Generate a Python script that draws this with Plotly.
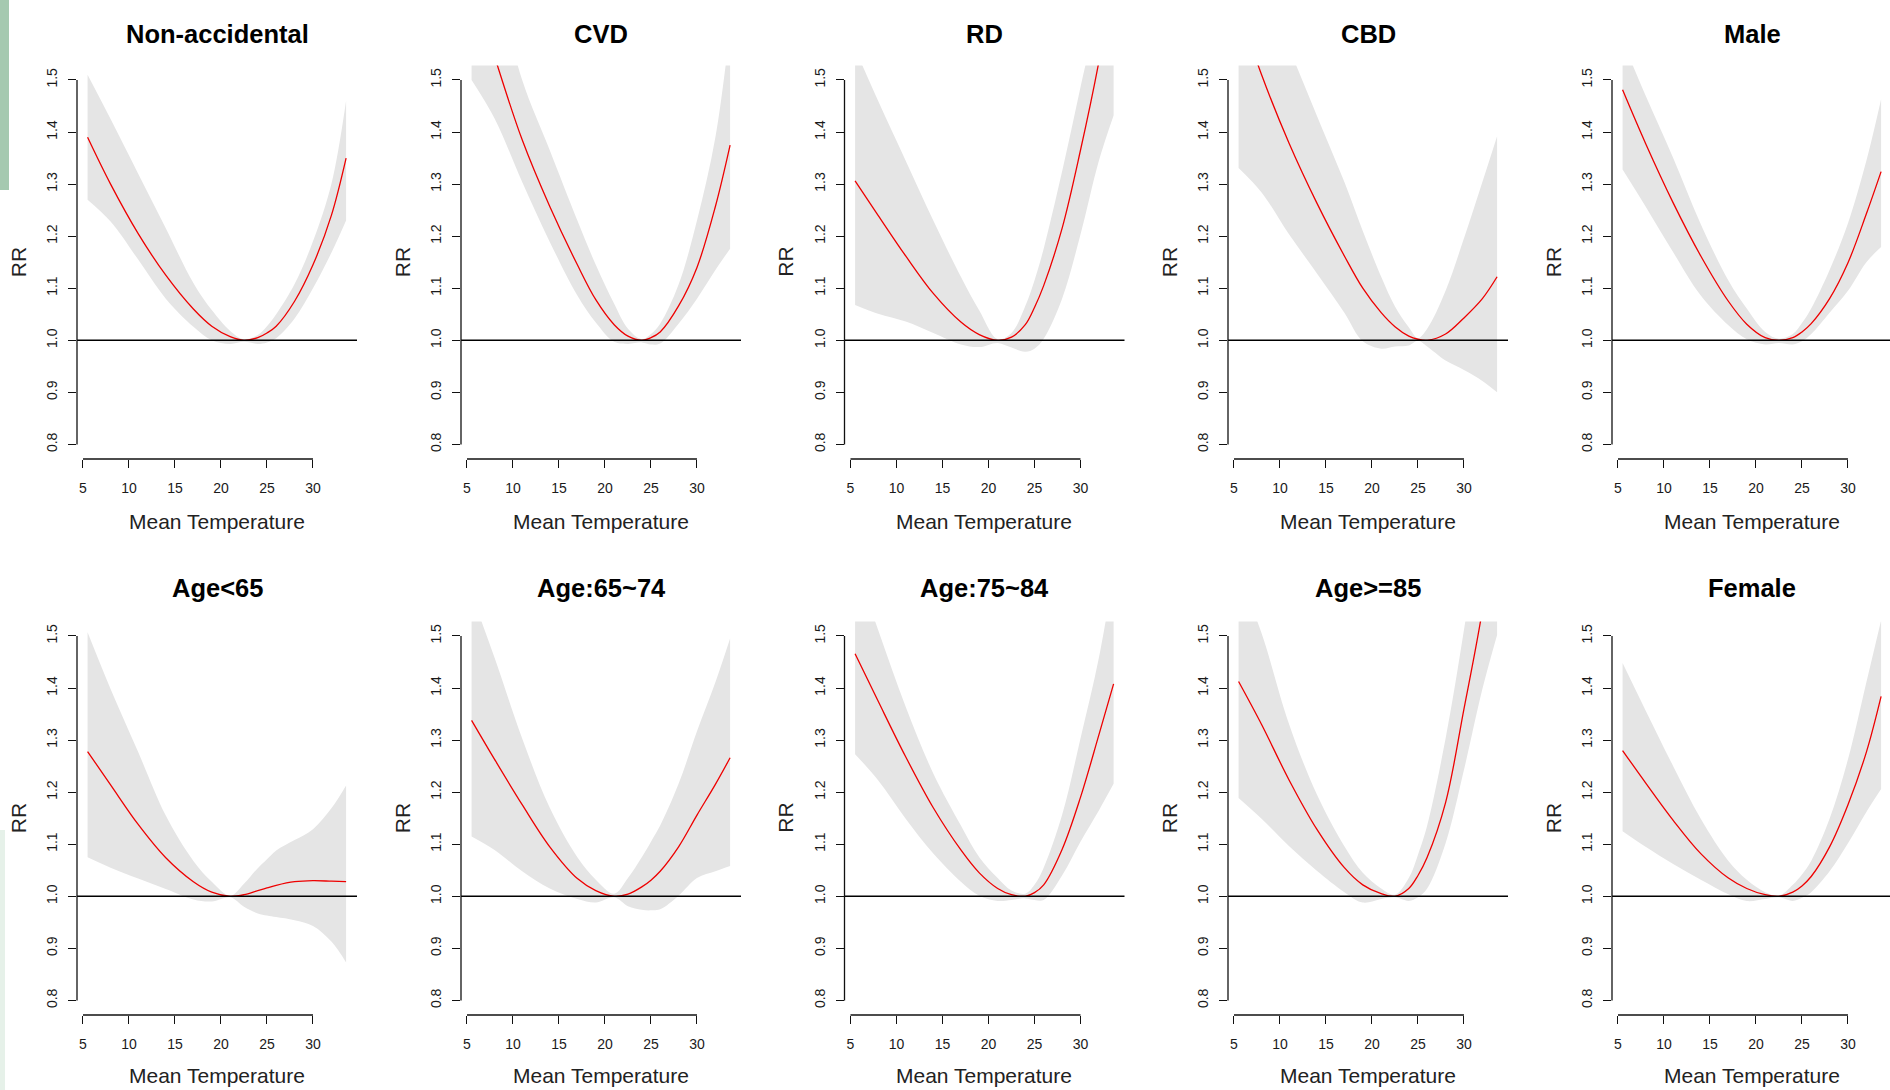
import plotly.graph_objects as go

W, H = 1890, 1090

# ---------------- data ----------------
TEMP = [5.5, 8, 11, 14, 17, 19, 21, 22.5, 24, 25, 26, 28, 30, 32, 33.6]

PANELS = ["Non-accidental", "CVD", "RD", "CBD", "Male",
          "Age<65", "Age:65~74", "Age:75~84", "Age>=85", "Female"]

rr_nonacc = [1.39, 1.30, 1.205, 1.125, 1.06, 1.027, 1.007, 1.0, 1.005, 1.014, 1.027, 1.075, 1.145, 1.24, 1.35]
hi_nonacc = [1.51, 1.425, 1.32, 1.215, 1.11, 1.058, 1.018, 1.002, 1.01, 1.027, 1.05, 1.108, 1.19, 1.30, 1.46]
lo_nonacc = [1.27, 1.228, 1.155, 1.08, 1.026, 1.0, 0.993, 0.997, 0.993, 0.996, 1.004, 1.042, 1.10, 1.168, 1.23]

rr_cvd = [1.69, 1.545, 1.385, 1.257, 1.145, 1.078, 1.03, 1.008, 1.0, 1.005, 1.016, 1.066, 1.14, 1.257, 1.375]
hi_cvd = [1.85, 1.70, 1.50, 1.365, 1.23, 1.145, 1.07, 1.022, 1.002, 1.012, 1.032, 1.107, 1.23, 1.39, 1.60]
lo_cvd = [1.50, 1.426, 1.304, 1.189, 1.086, 1.034, 0.997, 0.993, 0.996, 0.992, 0.994, 1.032, 1.08, 1.135, 1.176]

rr_rd = [1.306, 1.24, 1.162, 1.09, 1.035, 1.011, 1.0, 1.006, 1.03, 1.063, 1.105, 1.215, 1.365, 1.535, 1.70]
hi_rd = [1.56, 1.46, 1.345, 1.23, 1.122, 1.057, 1.002, 1.014, 1.066, 1.115, 1.176, 1.324, 1.486, 1.65, 1.85]
lo_rd = [1.068, 1.051, 1.036, 1.014, 0.992, 0.987, 0.995, 0.986, 0.978, 0.984, 1.003, 1.08, 1.203, 1.345, 1.432]

rr_cbd = [1.64, 1.51, 1.378, 1.264, 1.162, 1.10, 1.053, 1.026, 1.008, 1.002, 1.0, 1.012, 1.043, 1.08, 1.122]
hi_cbd = [1.75, 1.68, 1.56, 1.432, 1.304, 1.21, 1.122, 1.065, 1.025, 1.004, 1.022, 1.095, 1.196, 1.304, 1.392]
lo_cbd = [1.331, 1.284, 1.203, 1.129, 1.053, 0.998, 0.984, 0.988, 0.99, 0.999, 0.988, 0.961, 0.943, 0.922, 0.90]

rr_male = [1.481, 1.378, 1.264, 1.162, 1.075, 1.031, 1.005, 1.0, 1.005, 1.016, 1.032, 1.08, 1.149, 1.243, 1.324]
hi_male = [1.575, 1.47, 1.35, 1.223, 1.115, 1.061, 1.016, 1.003, 1.012, 1.033, 1.061, 1.135, 1.225, 1.345, 1.463]
lo_male = [1.328, 1.257, 1.169, 1.086, 1.029, 1.002, 0.992, 0.995, 0.992, 0.998, 1.012, 1.053, 1.095, 1.15, 1.179]

rr_age1 = [1.278, 1.214, 1.138, 1.074, 1.028, 1.008, 1.0, 1.003, 1.011, 1.016, 1.021, 1.028, 1.03, 1.029, 1.028]
hi_age1 = [1.507, 1.398, 1.277, 1.155, 1.068, 1.028, 1.001, 1.024, 1.054, 1.071, 1.088, 1.108, 1.129, 1.169, 1.213]
lo_age1 = [1.075, 1.055, 1.034, 1.014, 0.994, 0.99, 0.998, 0.98, 0.967, 0.963, 0.96, 0.954, 0.943, 0.913, 0.873]

rr_age2 = [1.338, 1.263, 1.176, 1.095, 1.034, 1.011, 1.0, 1.004, 1.018, 1.031, 1.048, 1.095, 1.156, 1.215, 1.266]
hi_age2 = [1.58, 1.458, 1.303, 1.17, 1.075, 1.032, 1.005, 1.035, 1.075, 1.105, 1.136, 1.216, 1.317, 1.411, 1.495]
lo_age2 = [1.115, 1.089, 1.048, 1.015, 0.995, 0.988, 0.998, 0.981, 0.974, 0.973, 0.975, 1.001, 1.035, 1.048, 1.058]

rr_age3 = [1.466, 1.375, 1.268, 1.17, 1.089, 1.045, 1.015, 1.003, 1.0, 1.007, 1.022, 1.09, 1.19, 1.31, 1.408]
hi_age3 = [1.64, 1.512, 1.364, 1.236, 1.136, 1.075, 1.035, 1.011, 1.005, 1.022, 1.055, 1.156, 1.303, 1.458, 1.62]
lo_age3 = [1.273, 1.223, 1.149, 1.082, 1.028, 1.001, 0.991, 0.993, 0.996, 0.993, 0.993, 1.04, 1.105, 1.165, 1.216]

rr_age4 = [1.4125, 1.33, 1.223, 1.129, 1.055, 1.022, 1.005, 1.0, 1.015, 1.04, 1.075, 1.18, 1.36, 1.55, 1.76]
hi_age4 = [1.62, 1.505, 1.33, 1.196, 1.096, 1.045, 1.015, 1.003, 1.035, 1.08, 1.136, 1.303, 1.512, 1.75, 1.95]
lo_age4 = [1.189, 1.149, 1.096, 1.049, 1.008, 0.988, 0.995, 0.998, 0.991, 0.998, 1.015, 1.102, 1.243, 1.398, 1.502]

rr_female = [1.28, 1.218, 1.146, 1.082, 1.035, 1.015, 1.003, 1.0, 1.008, 1.02, 1.038, 1.095, 1.176, 1.277, 1.384]
hi_female = [1.448, 1.357, 1.25, 1.149, 1.068, 1.032, 1.008, 1.001, 1.022, 1.042, 1.068, 1.149, 1.263, 1.411, 1.53]
lo_female = [1.125, 1.095, 1.062, 1.032, 1.004, 0.991, 0.995, 0.998, 0.991, 0.997, 1.008, 1.048, 1.102, 1.162, 1.206]

RR = [rr_nonacc, rr_cvd, rr_rd, rr_cbd, rr_male, rr_age1, rr_age2, rr_age3, rr_age4, rr_female]
HI = [hi_nonacc, hi_cvd, hi_rd, hi_cbd, hi_male, hi_age1, hi_age2, hi_age3, hi_age4, hi_female]
LO = [lo_nonacc, lo_cvd, lo_rd, lo_cbd, lo_male, lo_age1, lo_age2, lo_age3, lo_age4, lo_female]

Y_TICKS = [0.8, 0.9, 1.0, 1.1, 1.2, 1.3, 1.4, 1.5]
X_TICKS = [5, 10, 15, 20, 25, 30]
X_LABEL = "Mean Temperature"
Y_LABEL = "RR"

# ---------------- layout geometry (pixels) ----------------
COL_LEFT = [77, 461, 844.5, 1228, 1612]
PLOT_W = 280
ROW_TOP = [65.4, 621.4]
PLOT_H = 393.6
TITLE_Y = [34, 588]
XLABEL_Y = [521, 1075]
PX_PER_DEG = 9.2
X_MIN = 4.35
Y_RANGE = [0.772, 1.528]

FONT = "Liberation Sans, Arial, Helvetica, sans-serif"
BAND = "#e5e5e5"

fig = go.Figure()
layout = {}
shapes = []
annotations = []

for k, name in enumerate(PANELS):
    r, c = divmod(k, 5)
    sfx = "" if k == 0 else str(k + 1)
    xa, ya = "x" + sfx, "y" + sfx
    left = COL_LEFT[c]
    right = min(left + PLOT_W, W)
    top = ROW_TOP[r]
    bottom = top + PLOT_H
    xr = [X_MIN, X_MIN + (right - left) / PX_PER_DEG]

    layout["xaxis" + sfx] = dict(
        domain=[left / W, right / W], range=xr, anchor=ya,
        tickmode="array", tickvals=X_TICKS, ticks="outside", ticklen=8,
        tickwidth=1.3, tickcolor="#111", showline=False, showgrid=False,
        zeroline=False, tickfont=dict(family=FONT, size=14, color="#1a1a1a"),
        ticklabelstandoff=8, fixedrange=True)
    layout["yaxis" + sfx] = dict(
        domain=[1 - bottom / H, 1 - top / H], range=Y_RANGE, anchor=xa,
        tickmode="array", tickvals=Y_TICKS, tickformat=".1f", tickangle=-90,
        ticks="outside", ticklen=8, tickwidth=1.3, tickcolor="#111",
        showline=False, showgrid=False, zeroline=False,
        tickfont=dict(family=FONT, size=14, color="#1a1a1a"),
        ticklabelstandoff=5, fixedrange=True)

    fig.add_trace(go.Scatter(x=TEMP, y=LO[k], mode="lines",
                             line=dict(width=0, shape="spline"),
                             xaxis=xa, yaxis=ya, hoverinfo="skip", showlegend=False))
    fig.add_trace(go.Scatter(x=TEMP, y=HI[k], mode="lines",
                             line=dict(width=0, shape="spline"),
                             fill="tonexty", fillcolor=BAND,
                             xaxis=xa, yaxis=ya, hoverinfo="skip", showlegend=False))
    fig.add_trace(go.Scatter(x=TEMP, y=RR[k], mode="lines",
                             line=dict(color="#ee0000", width=1.3, shape="spline"),
                             xaxis=xa, yaxis=ya, showlegend=False, name=name))

    # reference line RR = 1
    shapes.append(dict(type="line", xref=xa + " domain", x0=0, x1=1,
                       yref=ya, y0=1, y1=1, line=dict(color="black", width=1.6)))
    # R-style detached axis lines
    shapes.append(dict(type="line", xref=xa + " domain", x0=0, x1=0,
                       yref=ya, y0=Y_TICKS[0], y1=Y_TICKS[-1],
                       line=dict(color="#111", width=1.3)))
    shapes.append(dict(type="line", xref=xa, x0=X_TICKS[0], x1=X_TICKS[-1],
                       yref=ya + " domain", y0=0, y1=0,
                       line=dict(color="#111", width=1.3)))

    cx = (left + PLOT_W / 2) / W
    annotations.append(dict(text="<b>%s</b>" % name.replace("<", "&lt;"), xref="paper", yref="paper",
                            x=cx, y=1 - TITLE_Y[r] / H, xanchor="center", yanchor="middle",
                            showarrow=False, font=dict(family=FONT, size=25.5, color="black")))
    annotations.append(dict(text=X_LABEL, xref="paper", yref="paper",
                            x=cx, y=1 - XLABEL_Y[r] / H, xanchor="center", yanchor="middle",
                            showarrow=False, font=dict(family=FONT, size=21, color="#222")))
    annotations.append(dict(text=Y_LABEL, xref="paper", yref="paper",
                            x=(left - 59) / W, y=1 - (top + PLOT_H / 2) / H,
                            xanchor="center", yanchor="middle", textangle=-90,
                            showarrow=False, font=dict(family=FONT, size=21, color="#222")))

# decorative green strip at the left edge of the original image
shapes.append(dict(type="rect", xref="paper", yref="paper", x0=0, x1=9 / W,
                   y0=1 - 190 / H, y1=1, fillcolor="#a5c9b0", line=dict(width=0), layer="below"))
shapes.append(dict(type="rect", xref="paper", yref="paper", x0=0, x1=5 / W,
                   y0=0, y1=1 - 830 / H, fillcolor="#e6f1e9", line=dict(width=0), layer="below"))

fig.update_layout(width=W, height=H, margin=dict(l=0, r=0, t=0, b=0),
                  paper_bgcolor="white", plot_bgcolor="white",
                  shapes=shapes, annotations=annotations, showlegend=False,
                  **layout)

fig.write_html("out.html", post_script="document.body.style.margin='0';",
               config={"displayModeBar": False})
